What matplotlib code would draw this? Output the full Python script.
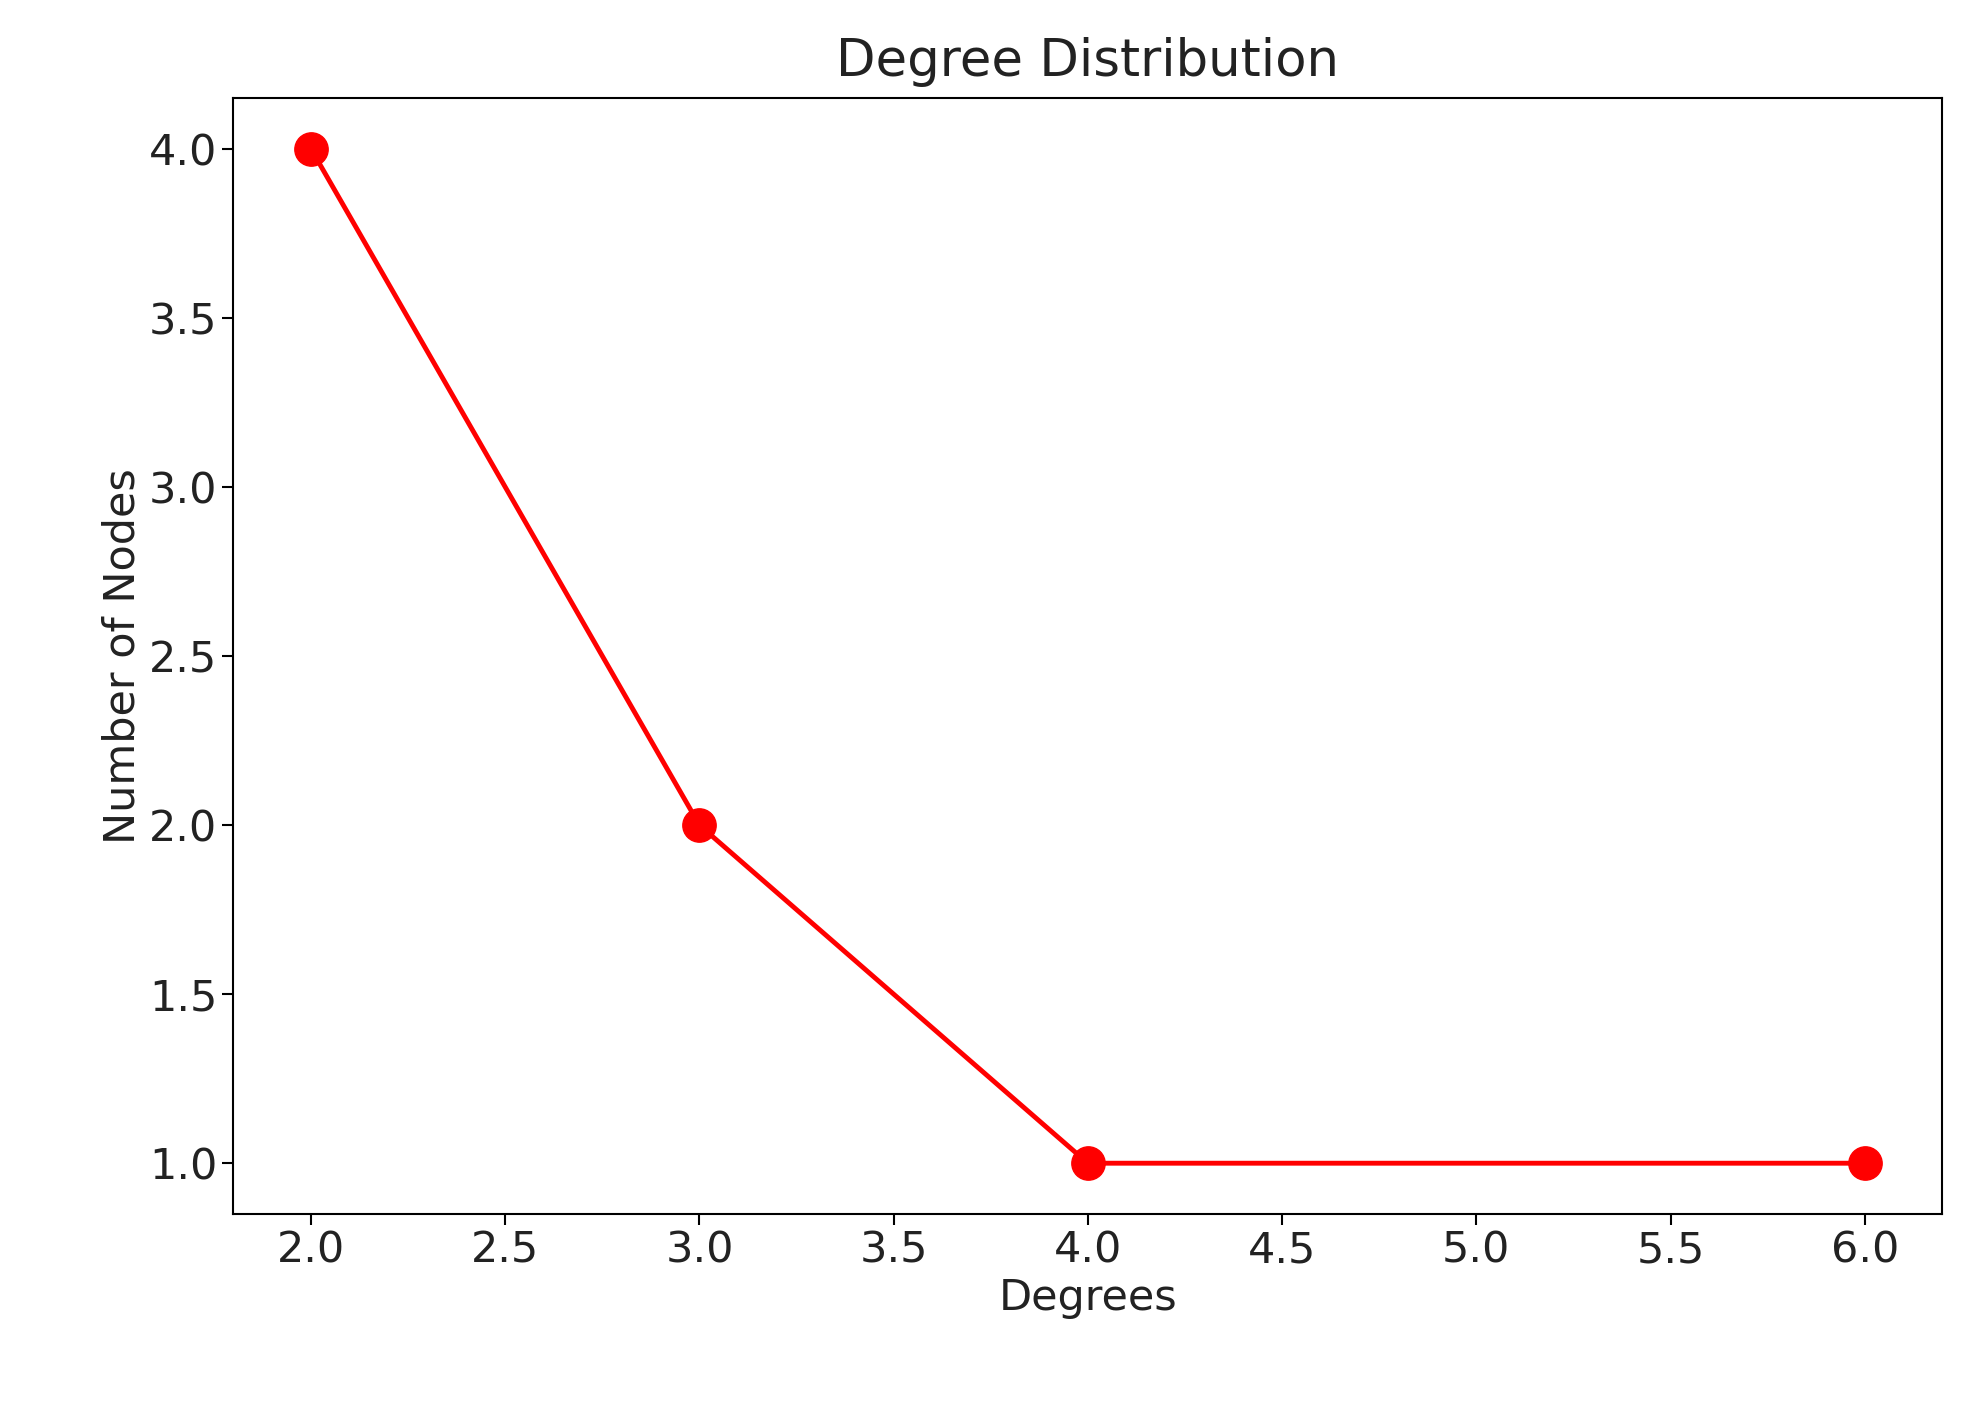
import matplotlib
matplotlib.use("Agg")
import matplotlib.pyplot as plt

degrees = [2, 3, 4, 6]
counts = [4, 2, 1, 1]

fig = plt.figure(figsize=(19.78, 14.05), dpi=100)
ax = fig.add_axes([0.118, 0.136, 0.864, 0.794])
ax.plot(degrees, counts, color='red', marker='o', linewidth=3.5, markersize=24)
ax.set_title("Degree Distribution", fontsize=37, pad=16, color='#222222')
ax.set_xlabel("Degrees", fontsize=31, color='#222222')
ax.set_ylabel("Number of Nodes", fontsize=31, color='#222222')
ax.tick_params(labelsize=31, width=1.5, length=8, labelcolor='#222222')
for s in ax.spines.values():
    s.set_linewidth(1.5)
fig.savefig("out.png", dpi=100)
